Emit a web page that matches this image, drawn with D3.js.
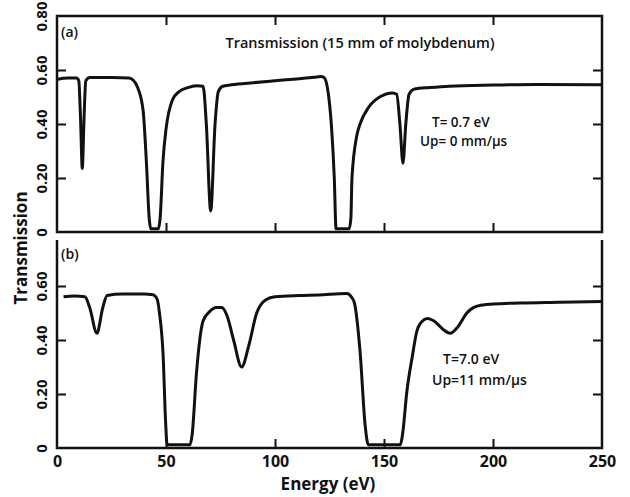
<!DOCTYPE html>
<html>
<head>
<meta charset="utf-8">
<script src="https://cdn.jsdelivr.net/npm/d3@7"></script>
<style>
  html, body { margin: 0; padding: 0; background: #fff; }
  svg { display: block; }
  text { font-family: "Open Sans", "DejaVu Sans", sans-serif; fill: #111; }
</style>
</head>
<body>
<svg id="chart" width="630" height="497"></svg>
<script>
// Energy grid (eV) and transmission for panel (a): T = 0.7 eV, Up = 0 mm/us
const energyA = [0, 5, 9, 10, 10.8, 11.6, 12.4, 13.2, 15, 25, 33, 35, 37, 39.5, 41, 42.3, 43,
  46.5, 47.3, 48.6, 50, 53, 56, 60, 64, 67, 68.5, 70.5, 72.5, 74, 76, 80, 90, 100, 110, 118,
  121, 122.5, 124.5, 126, 127.2, 128, 134, 134.8, 135.3, 137.6, 139, 142.8, 148, 154, 155.8,
  157.3, 158.7, 160, 161.5, 164, 171, 180, 200, 220, 250];
const transA = [0.565, 0.57, 0.57, 0.56, 0.42, 0.235, 0.42, 0.56, 0.572, 0.572, 0.57, 0.562,
  0.535, 0.45, 0.26, 0.05, 0.012, 0.012, 0.05, 0.26, 0.38, 0.49, 0.52, 0.535, 0.542, 0.54,
  0.4, 0.078, 0.4, 0.52, 0.54, 0.545, 0.553, 0.56, 0.567, 0.573, 0.576, 0.572, 0.51, 0.38,
  0.2, 0.012, 0.012, 0.05, 0.2, 0.36, 0.40, 0.46, 0.50, 0.515, 0.51, 0.4, 0.255, 0.4, 0.51,
  0.53, 0.535, 0.54, 0.544, 0.546, 0.545];

// Panel (b): T = 7.0 eV, Up = 11 mm/us
const energyB = [3, 8, 12.8, 15, 18.3, 21, 23, 30, 40, 44, 46, 47, 48.7, 49.8, 50.5, 61, 62,
  64, 67, 70, 73, 75.5, 78, 81, 84.7, 88, 91.6, 96, 100, 111, 120, 133, 135, 136.5, 139,
  141.4, 142.8, 157.5, 158.5, 160.5, 163, 165, 166.5, 170, 173, 177, 180.3, 184, 188, 191,
  195.5, 200, 212, 230, 250];
const transB = [0.56, 0.563, 0.56, 0.52, 0.425, 0.52, 0.565, 0.57, 0.57, 0.568, 0.55, 0.50,
  0.34, 0.1, 0.012, 0.012, 0.05, 0.28, 0.47, 0.505, 0.52, 0.52, 0.49, 0.40, 0.30, 0.38, 0.50,
  0.55, 0.56, 0.565, 0.567, 0.572, 0.56, 0.535, 0.36, 0.08, 0.012, 0.012, 0.05, 0.21, 0.34,
  0.43, 0.46, 0.48, 0.47, 0.44, 0.425, 0.45, 0.50, 0.52, 0.53, 0.533, 0.537, 0.54, 0.543];

// Axis ticks
const xTicks = [0, 50, 100, 150, 200, 250];
const xInnerTicks = [50, 100, 150, 200];
const yTicksA = [0, 0.2, 0.4, 0.6, 0.8];
const yTicksB = [0, 0.2, 0.4, 0.6];
const yInnerTicks = [0.2, 0.4, 0.6];
const fmtY = d => d === 0 ? "0" : d3.format(".2f")(d);

const svg = d3.select("#chart");
const left = 57, right = 602;
const x = d3.scaleLinear().domain([0, 250]).range([left, right]);
const yA = d3.scaleLinear().domain([0, 0.8]).range([232, 16]);
const yB = d3.scaleLinear().domain([0, 0.8]).range([448, 232]);
const bTop = 240;
const TICK = 9;

function styleAxis(g) {
  g.select(".domain").remove();
  g.selectAll(".tick line").attr("stroke", "#111").attr("stroke-width", 2);
}

function leftAxis(y, ticks) {
  const g = svg.append("g").attr("transform", `translate(${left},0)`)
    .call(d3.axisLeft(y).tickValues(ticks).tickSize(-TICK).tickFormat(fmtY));
  styleAxis(g);
  g.selectAll(".tick line").filter(d => !yInnerTicks.includes(d)).remove();
  g.selectAll(".tick text")
    .attr("x", 0).attr("dy", "0.36em")
    .attr("text-anchor", "middle")
    .attr("transform", "translate(-15,0) rotate(-90)")
    .style("font-size", "15px").style("font-weight", 700);
}

function rightAxis(y) {
  const g = svg.append("g").attr("transform", `translate(${right},0)`)
    .call(d3.axisRight(y).tickValues(yInnerTicks).tickSize(-TICK).tickFormat(""));
  styleAxis(g);
}

function hAxis(axisFn, yPos, ticks, labels) {
  const g = svg.append("g").attr("transform", `translate(0,${yPos})`)
    .call(axisFn(x).tickValues(ticks).tickSize(-TICK).tickPadding(8)
      .tickFormat(labels ? d3.format("d") : ""));
  styleAxis(g);
  g.selectAll(".tick line").filter(d => !xInnerTicks.includes(d)).remove();
  g.selectAll(".tick text").style("font-size", "16px").style("font-weight", 700);
}

// Panel (a): full frame
leftAxis(yA, yTicksA);
rightAxis(yA);
hAxis(d3.axisTop, yA(0.8), xInnerTicks, false);
hAxis(d3.axisBottom, yA(0), xInnerTicks, false);
svg.append("rect")
  .attr("x", left).attr("y", yA(0.8))
  .attr("width", right - left).attr("height", yA(0) - yA(0.8))
  .attr("fill", "none").attr("stroke", "#111").attr("stroke-width", 2.5);

// Panel (b): open on top
leftAxis(yB, yTicksB);
rightAxis(yB);
hAxis(d3.axisBottom, yB(0), xTicks, true);
svg.append("path")
  .attr("d", `M${left},${bTop}V${yB(0)}H${right}V${bTop}`)
  .attr("fill", "none").attr("stroke", "#111").attr("stroke-width", 2.5);

// Transmission curves
function curve(energy, trans, y) {
  const pts = energy.map((e, i) => [e, trans[i]]);
  const line = d3.line().x(d => x(d[0])).y(d => y(d[1])).curve(d3.curveMonotoneX);
  svg.append("path").datum(pts).attr("d", line)
    .attr("fill", "none").attr("stroke", "#111")
    .attr("stroke-width", 3).attr("stroke-linejoin", "round");
}
curve(energyA, transA, yA);
curve(energyB, transB, yB);

// Labels
const txt = (s, tx, ty, size, anchor = "start", weight = 600) =>
  svg.append("text").attr("x", tx).attr("y", ty).attr("text-anchor", anchor)
    .style("font-size", size + "px").style("font-weight", weight).text(s);

txt("(a)", 61, 37, 14);
txt("(b)", 61, 259, 14);
txt("Transmission (15 mm of molybdenum)", 360, 48, 14.5, "middle");
txt("T= 0.7 eV", 432, 127, 13.5);
txt("Up= 0 mm/\u03BCs", 420, 146, 13.5);
txt("T=7.0 eV", 443, 364, 14);
txt("Up=11 mm/\u03BCs", 432, 385, 14);
txt("Energy (eV)", 328, 490, 17, "middle", 700);

svg.append("text")
  .attr("transform", "translate(27,248) rotate(-90)")
  .attr("text-anchor", "middle")
  .style("font-size", "17px").style("font-weight", 700)
  .text("Transmission");
</script>
</body>
</html>
